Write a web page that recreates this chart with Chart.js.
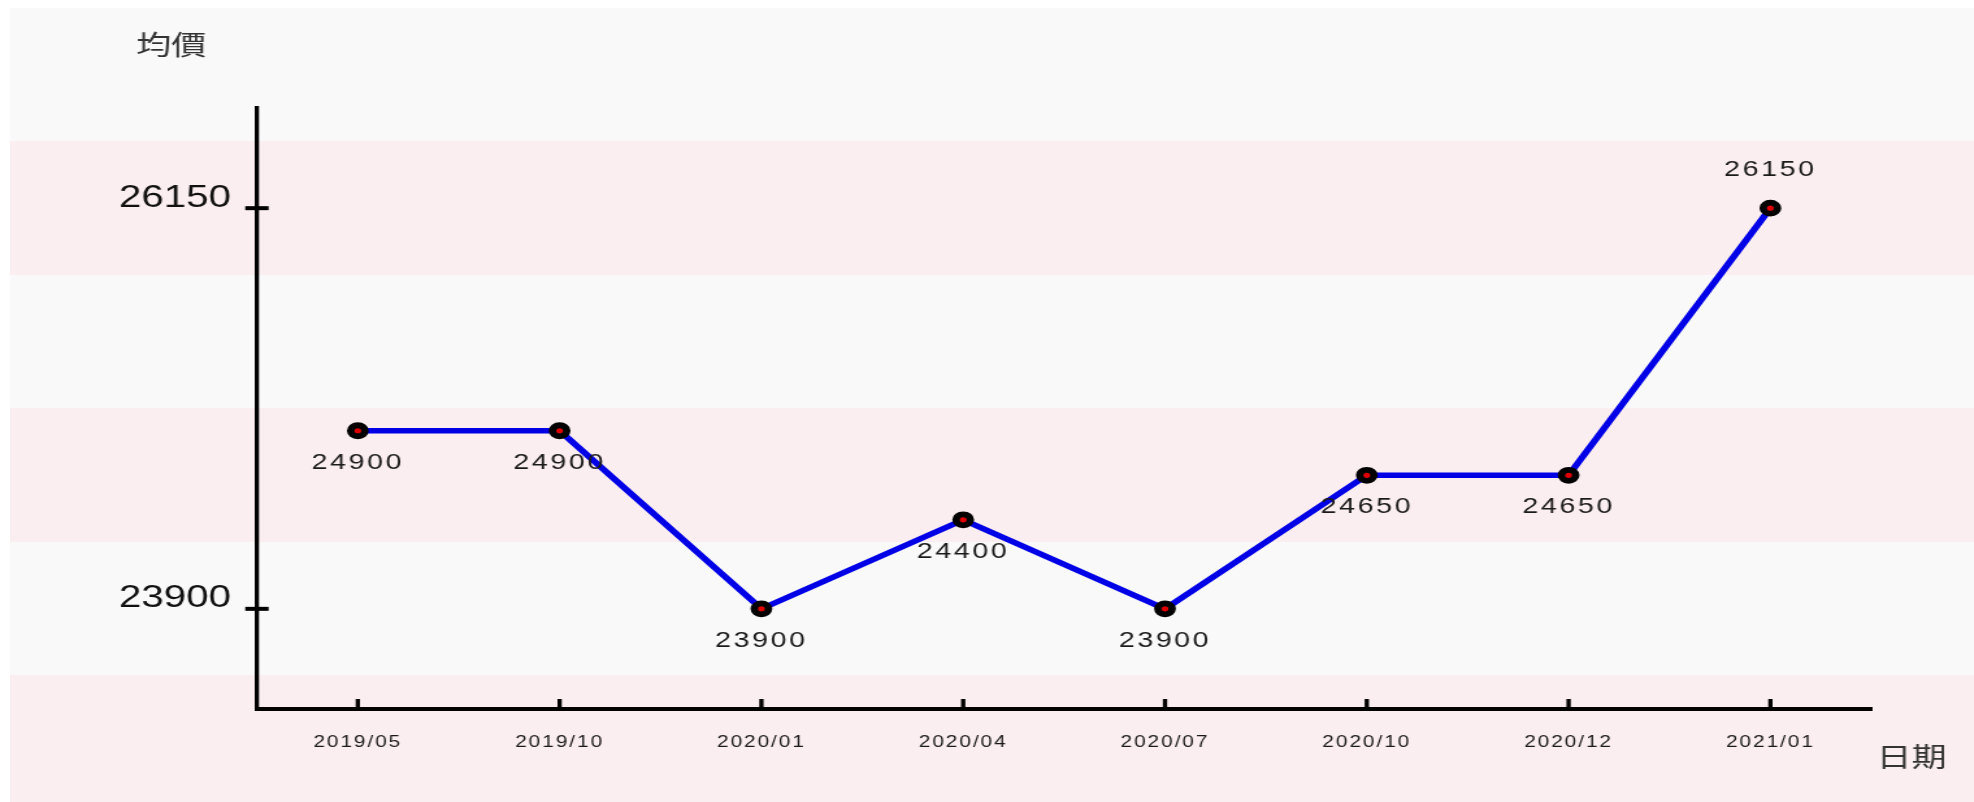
<!DOCTYPE html>
<html>
<head>
<meta charset="utf-8">
<title>均價</title>
<script src="https://cdn.jsdelivr.net/npm/chart.js@4.4.0/dist/chart.umd.min.js"></script>
<style>
html, body { margin: 0; padding: 0; background: #fff; overflow: hidden; }
#bg {
    position: absolute; left: 10px; top: 8px; width: 1964px; height: 794px;
    background: repeating-linear-gradient(to bottom,
        #f9f9f9 0px, #f9f9f9 133.5px, #fbeef0 133.5px, #fbeef0 267px);
}
/* the original picture is stretched sideways, so stretch the canvas the same way */
#wrap {
    position: absolute; left: 0; top: 0; width: 1519px; height: 802px;
    transform: scaleX(1.2995); transform-origin: 0 0;
}
</style>
</head>
<body>
<div id="bg"></div>
<div id="wrap"><canvas id="priceChart" width="1519" height="802"></canvas></div>
<script>
const dates = ['2019/05', '2019/10', '2020/01', '2020/04', '2020/07', '2020/10', '2020/12', '2021/01'];
const avgPrice = [24900, 24900, 23900, 24400, 23900, 24650, 24650, 26150];
const yTicks = [23900, 26150];
const yTitle = '均價';
const xTitle = '日期';

const font = '"Liberation Sans", Arial, sans-serif';
const cjkFont = '"Noto Sans CJK TC", "Noto Sans CJK SC", sans-serif';

// axis range: 25% of the data span above and below
const lo = Math.min(...avgPrice);
const hi = Math.max(...avgPrice);
const pad = (hi - lo) * 0.25;

// tick marks, point labels and the two axis titles
const decor = {
    id: 'decor',
    beforeDraw(chart) {
        chart.ctx.letterSpacing = '0px';
    },
    afterDatasetsDraw(chart) {
        // x labels are drawn after the datasets (ticks.z: 1), spaced out a bit
        chart.ctx.letterSpacing = '1.5px';
    },
    afterDraw(chart) {
        const c = chart.ctx;
        const area = chart.chartArea;
        const xs = chart.scales.x;
        const ys = chart.scales.y;
        c.save();
        c.strokeStyle = '#000';

        c.lineWidth = 4;
        ys.ticks.forEach(t => {
            const py = ys.getPixelForValue(t.value);
            c.beginPath();
            c.moveTo(area.left - 9, py);
            c.lineTo(area.left + 9, py);
            c.stroke();
        });

        c.lineWidth = 3.3;
        xs.ticks.forEach((t, i) => {
            const px = xs.getPixelForTick(i);
            c.beginPath();
            c.moveTo(px, area.bottom);
            c.lineTo(px, area.bottom - 10);
            c.stroke();
        });

        // value labels, below the points except the highest one
        c.letterSpacing = '2px';
        c.font = '22px ' + font;
        c.fillStyle = '#1a1a1a';
        c.textAlign = 'center';
        c.textBaseline = 'middle';
        const meta = chart.getDatasetMeta(0);
        meta.data.forEach((pt, i) => {
            const v = avgPrice[i];
            const ty = v === hi ? pt.y - 38 : pt.y + 32;
            c.fillText(String(v), pt.x, ty);
        });

        c.letterSpacing = '0px';
        c.font = '27px ' + cjkFont;
        c.fillStyle = '#333';
        c.fillText(yTitle, area.left - 66, area.top - 63);
        c.fillText(xTitle, area.right + 31, area.bottom + 48);
        c.restore();
    }
};

const ctx = document.getElementById('priceChart').getContext('2d');
const priceChart = new Chart(ctx, {
    type: 'line',
    data: {
        labels: dates,
        datasets: [{
            label: yTitle,
            data: avgPrice,
            borderColor: 'rgb(0, 0, 230)',
            borderWidth: 5.5,
            tension: 0,
            pointRadius: 5.5,
            pointBorderWidth: 5.8,
            pointBackgroundColor: '#e00000',
            pointBorderColor: '#000',
            fill: false
        }]
    },
    options: {
        responsive: false,
        animation: false,
        events: [],
        layout: { padding: { left: 0, top: 108, right: 79, bottom: 0 } },
        plugins: {
            legend: { display: false },
            tooltip: { enabled: false }
        },
        scales: {
            x: {
                type: 'category',
                offset: true,
                grid: { display: false, drawTicks: false },
                border: { display: true, color: '#000', width: 4 },
                ticks: {
                    z: 1,
                    color: '#1a1a1a',
                    font: { family: font, size: 16 },
                    padding: 24,
                    maxRotation: 0,
                    autoSkip: false
                },
                afterFit(s) { s.height = 802 - 709; }
            },
            y: {
                min: lo - pad,
                max: hi + pad,
                grid: { display: false, drawTicks: false },
                border: { display: true, color: '#000', width: 3.3 },
                afterBuildTicks(s) { s.ticks = yTicks.map(v => ({ value: v })); },
                ticks: {
                    color: '#111',
                    font: { family: font, size: 31 },
                    padding: 20,
                    labelOffset: -10,
                    callback: v => String(v)
                },
                afterFit(s) { s.width = 197.7; }
            }
        }
    },
    plugins: [decor]
});
</script>
</body>
</html>
